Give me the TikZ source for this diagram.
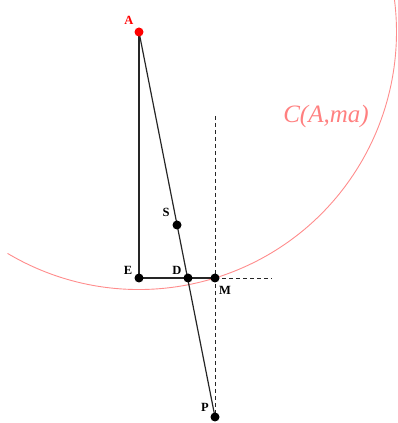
\documentclass[tikz,border=0pt]{standalone}
\usepackage{fontspec}
\setmainfont{Liberation Serif}
\usetikzlibrary{calc}
\tikzset{
  geoline/.style={line width=1.2pt, draw=black!85},
  geodash/.style={line width=0.9pt, draw=black!85,
    dash pattern=on 4pt off 3pt},
  geodot/.style={circle, fill=black, inner sep=0pt, minimum size=9pt},
  geolabel/.style={font=\bfseries\fontsize{12.5}{14}\selectfont,
    inner sep=1pt},
  geocircle/.style={draw=red!45, line width=0.9pt}
}

\begin{document}
\begin{tikzpicture}[x=1pt,y=1pt]
  \useasboundingbox (0,0) rectangle (397,423);
  \clip (0,0) rectangle (397,423);
  \coordinate (A) at (139,391);
  \coordinate (E) at (139,145);
  \coordinate (D) at (188,145);
  \coordinate (M) at (215,145);
  \coordinate (S) at (177,198);
  \coordinate (P) at (215,6);
  \coordinate (vtop) at (215,307);
  \coordinate (hend) at (272,145);

  % circle of centre A through M
  \draw[geocircle] (A) ++(239.3:257.5) arc[start angle=239.3,
    end angle=372, radius=257.5];
  \node[font=\itshape\fontsize{25}{28}\selectfont, text=red!50]
    (circlabel) at (326,307) {C(A,ma)};

  \draw[geodash] (vtop) -- (P);
  \draw[geodash] (M) -- (hend);
  \draw[geoline] (A) -- (E);
  \draw[geoline] (E) -- (M);
  \draw[geoline] (A) -- (P);

  \node[geodot, fill=red] (dotA) at (A) {};
  \node[geodot] (dotE) at (E) {};
  \node[geodot] (dotD) at (D) {};
  \node[geodot] (dotM) at (M) {};
  \node[geodot] (dotS) at (S) {};
  \node[geodot] (dotP) at (P) {};

  \node[geolabel, text=red] (labA) at (129,403) {A};
  \node[geolabel] (labE) at (128,153) {E};
  \node[geolabel] (labD) at (177,153) {D};
  \node[geolabel] (labS) at (166,211) {S};
  \node[geolabel] (labM) at (225,133) {M};
  \node[geolabel] (labP) at (205,16) {P};
\end{tikzpicture}
\end{document}
